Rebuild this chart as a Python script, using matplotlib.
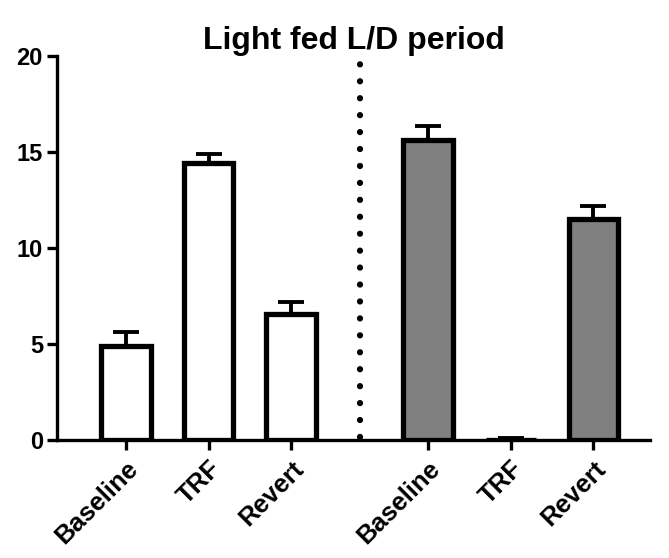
import numpy as np
import matplotlib.pyplot as plt

plt.rcParams['font.family'] = ['Liberation Sans', 'DejaVu Sans']
plt.rcParams['font.weight'] = 'bold'

labels = ["Baseline", "TRF", "Revert", "Baseline", "TRF", "Revert"]
means = [4.9, 14.4, 6.55, 15.6, 0.0, 11.5]
sems = [0.7, 0.5, 0.65, 0.75, 0.12, 0.7]
colors = ["white", "white", "white", "#808080", "#808080", "#808080"]

pos = np.array([0, 1, 2, 3.66, 4.66, 5.66])

fig = plt.figure(figsize=(6.69, 5.58), dpi=100)
ax = fig.add_axes([0.085, 0.2115, 0.887, 0.6885])

ax.bar(pos, means, width=0.6, color=colors, edgecolor="black", linewidth=3.8, zorder=3)
ax.errorbar(pos, means, yerr=[np.zeros(len(sems)), sems], fmt="none",
            ecolor="black", elinewidth=2.8, capsize=9.5, capthick=2.8, zorder=2)

# dotted separator between the two groups
ax.plot([2.83, 2.83], [0.15, 20], color="black", linewidth=4.5,
        linestyle=(0, (0.01, 2.7)), dash_capstyle="round", zorder=1, clip_on=False)

ax.set_xlim(-0.84, 6.35)
ax.set_ylim(0, 20)
ax.set_yticks([0, 5, 10, 15, 20])
ax.set_xticks(pos)
ax.set_xticklabels(labels, rotation=45, ha="right", rotation_mode="anchor",
                   fontsize=18.5, fontweight="bold")
for t in ax.get_yticklabels():
    t.set_fontsize(17)
    t.set_fontweight("bold")

for s in ["top", "right"]:
    ax.spines[s].set_visible(False)
for s in ["left", "bottom"]:
    ax.spines[s].set_linewidth(2.4)
ax.tick_params(axis="both", width=2.4, length=7, direction="out")
ax.tick_params(axis="x", pad=5)
ax.tick_params(axis="y", pad=3)

ax.set_title("Light fed L/D period", fontsize=23, fontweight="bold", pad=2)

fig.savefig("out.png", dpi=100)
